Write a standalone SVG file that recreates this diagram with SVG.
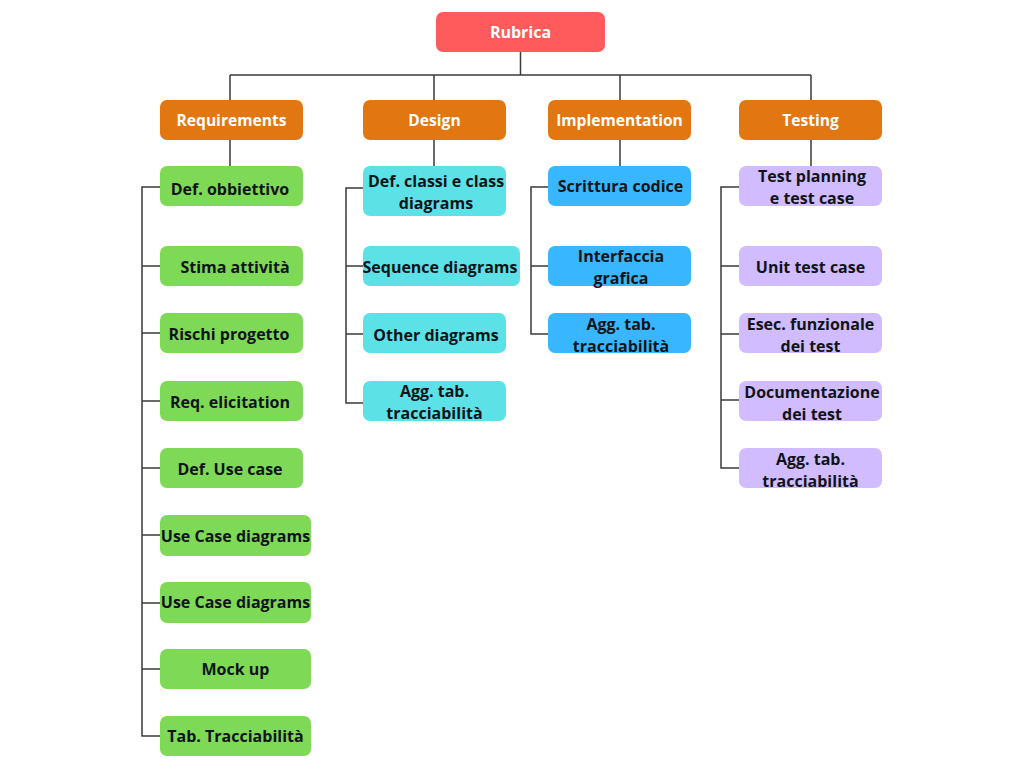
<svg xmlns="http://www.w3.org/2000/svg" width="1024" height="768" viewBox="0 0 1024 768">
<style>
text{font-family:"Open Sans","Liberation Sans",sans-serif;font-weight:700;font-size:16px;text-anchor:middle}
.w{fill:#ffffff;font-size:15.6px}
.d{fill:#101418}
.root{fill:#FF5A5C}
.cat{fill:#E27610}
.g{fill:#7ED957}
.c{fill:#5CE1E6}
.b{fill:#38B6FF}
.p{fill:#D0BCFF}
.ln{fill:none;stroke:#3a3a3a;stroke-width:1.5}
</style>
<rect width="1024" height="768" fill="#ffffff"/>
<g id="connectors" class="ln">
<path d="M520.5 52V75M230 75H811M230 75V100M434 75V100M620 75V100M811 75V100"/>
<path d="M230 140V166M434 140V166M620 140V166M811 140V166"/>
<path d="M160 187H142V736H160M142 266H160M142 333H160M142 401H160M142 468H160M142 535H160M142 603H160M142 669H160"/>
<path d="M363 188H346V403H363M346 266H363M346 334H363"/>
<path d="M548 187H531V334H548M531 266H548"/>
<path d="M739 187H721V468H739M721 266H739M721 334H739M721 400H739"/>
</g>
<g id="rubrica"><rect class="root" x="436" y="12" width="169" height="40" rx="7"/><text class="w" x="520.5" y="37.5" style="font-size:16px">Rubrica</text></g>
<g id="requirements"><rect class="cat" x="160" y="100" width="143" height="40" rx="7"/><text class="w" x="231.5" y="125.5">Requirements</text></g>
<g id="design"><rect class="cat" x="363" y="100" width="143" height="40" rx="7"/><text class="w" x="434.5" y="125.5">Design</text></g>
<g id="implementation"><rect class="cat" x="548" y="100" width="143" height="40" rx="7"/><text class="w" x="619.5" y="125.5">Implementation</text></g>
<g id="testing"><rect class="cat" x="739" y="100" width="143" height="40" rx="7"/><text class="w" x="810.5" y="125.5">Testing</text></g>

<g id="req1"><rect class="g" x="160" y="166" width="143" height="40" rx="7"/><text class="d" x="230" y="194.5">Def. obbiettivo</text></g>
<g id="req2"><rect class="g" x="160" y="246" width="143" height="40" rx="7"/><text class="d" x="235" y="272.5">Stima attività</text></g>
<g id="req3"><rect class="g" x="160" y="313" width="143" height="40" rx="7"/><text class="d" x="229" y="339.5">Rischi progetto</text></g>
<g id="req4"><rect class="g" x="160" y="381" width="143" height="40" rx="7"/><text class="d" x="230" y="407.5">Req. elicitation</text></g>
<g id="req5"><rect class="g" x="160" y="448" width="143" height="40" rx="7"/><text class="d" x="230" y="474.5">Def. Use case</text></g>
<g id="req6"><rect class="g" x="160" y="515" width="151" height="41" rx="7"/><text class="d" x="235.5" y="541.5">Use Case diagrams</text></g>
<g id="req7"><rect class="g" x="160" y="582" width="151" height="41" rx="7"/><text class="d" x="235.5" y="607.5">Use Case diagrams</text></g>
<g id="req8"><rect class="g" x="160" y="649" width="151" height="40" rx="7"/><text class="d" x="235.5" y="674.5">Mock up</text></g>
<g id="req9"><rect class="g" x="160" y="716" width="151" height="40" rx="7"/><text class="d" x="235.5" y="741.5">Tab. Tracciabilità</text></g>

<g id="des1"><rect class="c" x="363" y="166" width="143" height="50" rx="7"/><text class="d" x="436" y="186.5">Def. classi e class</text><text class="d" x="436" y="208.5">diagrams</text></g>
<g id="des2"><rect class="c" x="363" y="246" width="157" height="40" rx="7"/><text class="d" x="440" y="272.5">Sequence diagrams</text></g>
<g id="des3"><rect class="c" x="363" y="313" width="143" height="40" rx="7"/><text class="d" x="436" y="341">Other diagrams</text></g>
<g id="des4"><rect class="c" x="363" y="381" width="143" height="40" rx="7"/><text class="d" x="434.5" y="396.5">Agg. tab.</text><text class="d" x="434.5" y="418.5">tracciabilità</text></g>

<g id="imp1"><rect class="b" x="548" y="166" width="143" height="40" rx="7"/><text class="d" x="620.5" y="191.5">Scrittura codice</text></g>
<g id="imp2"><rect class="b" x="548" y="246" width="143" height="40" rx="7"/><text class="d" x="621" y="261.5">Interfaccia</text><text class="d" x="621" y="283.5">grafica</text></g>
<g id="imp3"><rect class="b" x="548" y="313" width="143" height="40" rx="7"/><text class="d" x="621" y="329.5">Agg. tab.</text><text class="d" x="621" y="351.5">tracciabilità</text></g>

<g id="tst1"><rect class="p" x="739" y="166" width="143" height="40" rx="7"/><text class="d" x="812" y="181.5">Test planning</text><text class="d" x="812" y="203.5">e test case</text></g>
<g id="tst2"><rect class="p" x="739" y="246" width="143" height="40" rx="7"/><text class="d" x="810.5" y="272.5">Unit test case</text></g>
<g id="tst3"><rect class="p" x="739" y="313" width="143" height="40" rx="7"/><text class="d" x="810.5" y="329.5">Esec. funzionale</text><text class="d" x="810.5" y="351.5">dei test</text></g>
<g id="tst4"><rect class="p" x="739" y="381" width="143" height="40" rx="7"/><text class="d" x="812" y="397.5">Documentazione</text><text class="d" x="812" y="419.5">dei test</text></g>
<g id="tst5"><rect class="p" x="739" y="448" width="143" height="40" rx="7"/><text class="d" x="810.5" y="464.5">Agg. tab.</text><text class="d" x="810.5" y="486.5">tracciabilità</text></g>
</svg>
